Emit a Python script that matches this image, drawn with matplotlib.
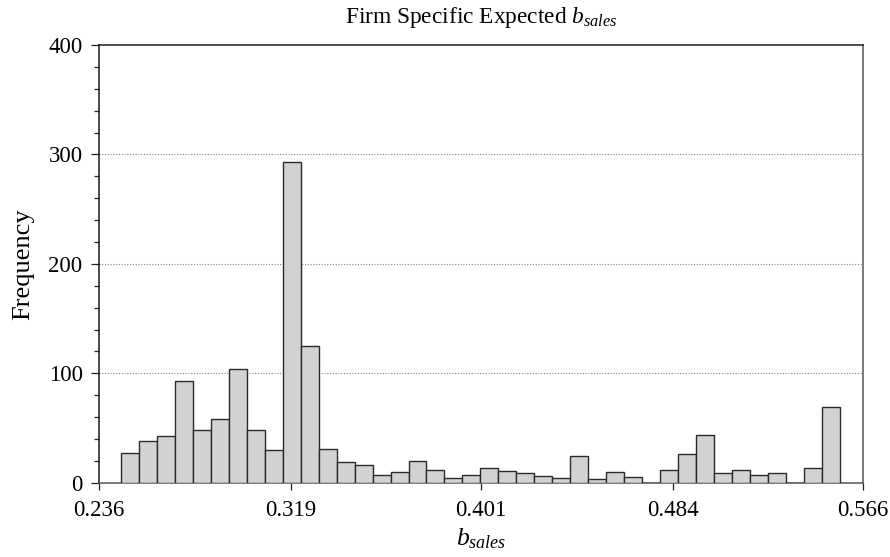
import numpy as np
import matplotlib
matplotlib.use("Agg")
import matplotlib.pyplot as plt
from matplotlib.ticker import MultipleLocator

# ---- data ----
bin_start = 0.2456
bin_width = 0.00776
counts = [27, 38, 43, 93, 48, 58, 104, 48, 30, 293,
          125, 31, 19, 16, 7, 10, 20, 12, 4, 7,
          13, 11, 9, 6, 4, 24, 3, 10, 5, 0,
          12, 26, 44, 9, 12, 7, 9, 0, 13, 69]
x_ticks = [0.236, 0.319, 0.401, 0.484, 0.566]
x_tick_labels = ["0.236", "0.319", "0.401", "0.484", "0.566"]
y_ticks = [0, 100, 200, 300, 400]

plt.rcParams['font.family'] = ['Liberation Serif', 'DejaVu Serif']
plt.rcParams['mathtext.fontset'] = 'custom'
plt.rcParams['mathtext.rm'] = 'Liberation Serif'
plt.rcParams['mathtext.it'] = 'Liberation Serif:italic'

fig = plt.figure(figsize=(8.9, 5.57), dpi=100)
ax = fig.add_axes([0.1112, 0.1334, 0.9693 - 0.1112, 0.9192 - 0.1334])

counts_arr = np.array(counts, dtype=float)
edges = bin_start + bin_width * np.arange(len(counts) + 1)
centers = 0.5 * (edges[:-1] + edges[1:])
ax.hist(centers, bins=edges, weights=counts_arr, color='#d1d2d4',
        edgecolor='#2a2a2a', linewidth=1.0, zorder=3)

ax.set_xlim(x_ticks[0], x_ticks[-1])
ax.set_ylim(0, 400)
ax.set_xticks(x_ticks)
ax.set_xticklabels(x_tick_labels)
ax.set_yticks(y_ticks)
ax.yaxis.set_minor_locator(MultipleLocator(20))

for y in y_ticks[1:-1]:
    ax.axhline(y, color='#888888', linestyle=(0, (1, 1.5)), linewidth=0.8, zorder=1)

ax.tick_params(axis='x', which='major', direction='out', length=5,
               width=0.9, labelsize=16.5, color='#222222', pad=7.5)
ax.tick_params(axis='y', which='major', direction='out', length=5.8,
               width=0.9, labelsize=16.5, color='#222222', pad=6)
ax.tick_params(axis='y', which='minor', direction='out', length=3.6,
               width=0.9, color='#222222')
ax.tick_params(axis='x', which='minor', length=0)

for side in ['left', 'top']:
    ax.spines[side].set_color('#1a1a1a')
    ax.spines[side].set_linewidth(1.1)
for side in ['right', 'bottom']:
    ax.spines[side].set_color('#555555')
    ax.spines[side].set_linewidth(1.1)

ax.set_title(r'Firm Specific Expected $b_{sales}$', fontsize=16.8, pad=15.5)
ax.set_ylabel('Frequency', fontsize=19, labelpad=10)
ax.set_xlabel(r'$b_{sales}$', fontsize=18.5, labelpad=3.5)

fig.savefig('out.png', dpi=100)
